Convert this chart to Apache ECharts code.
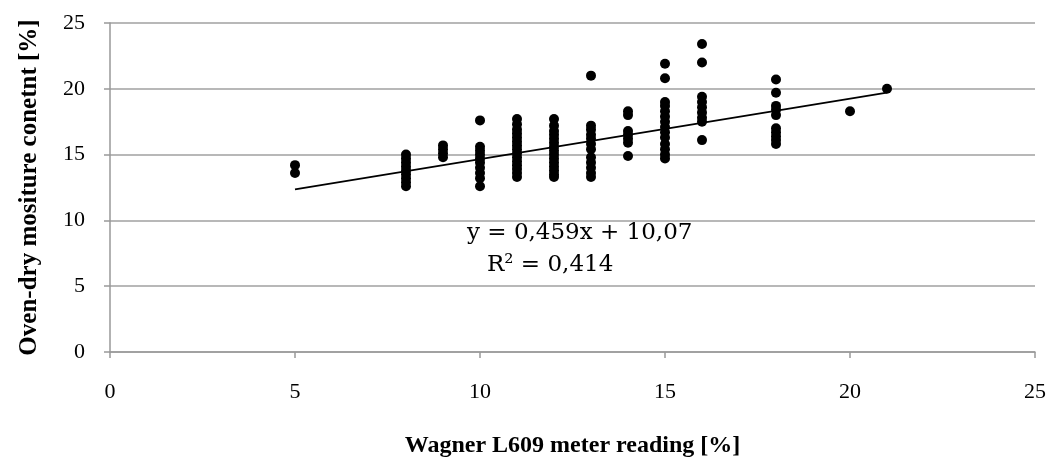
<!DOCTYPE html>
<html>
<head>
<meta charset="utf-8">
<script src="https://cdn.jsdelivr.net/npm/echarts@6/dist/echarts.min.js"></script>
<style>html,body{margin:0;padding:0;background:#fff}#c{width:1049px;height:465px}</style>
</head>
<body>
<div id="c"></div>
<script>
// Data: meter reading (x) and oven-dry moisture content (y)
const x5  = [14.2, 13.6];
const x8  = [15.0, 14.7, 14.4, 14.1, 13.8, 13.5, 13.2, 12.9, 12.6];
const x9  = [15.7, 15.4, 15.1, 14.8];
const x10 = [17.6, 15.6, 15.3, 15.0, 14.7, 14.4, 14.0, 13.6, 13.2, 12.6];
const x11 = [17.7, 17.3, 16.9, 16.6, 16.3, 16.0, 15.7, 15.4, 15.1, 14.8, 14.5, 14.2, 13.9, 13.6, 13.3];
const x12 = [17.7, 17.2, 16.8, 16.5, 16.2, 15.9, 15.6, 15.3, 15.0, 14.7, 14.4, 14.1, 13.8, 13.5, 13.3];
const x13 = [21.0, 17.2, 16.9, 16.5, 16.2, 15.8, 15.4, 14.8, 14.4, 14.0, 13.6, 13.3];
const x14 = [18.3, 18.0, 16.8, 16.5, 16.2, 15.9, 14.9];
const x15 = [21.9, 20.8, 19.0, 18.7, 18.3, 17.9, 17.5, 17.1, 16.7, 16.3, 15.8, 15.4, 15.0, 14.7];
const x16 = [23.4, 22.0, 19.4, 19.0, 18.6, 18.2, 17.8, 17.5, 16.1];
const x18 = [20.7, 19.7, 18.7, 18.4, 18.0, 17.0, 16.7, 16.4, 16.1, 15.8];
const x20 = [18.3];
const x21 = [20.0];
const readings = [5, 8, 9, 10, 11, 12, 13, 14, 15, 16, 18, 20, 21];
const moistureByReading = [x5, x8, x9, x10, x11, x12, x13, x14, x15, x16, x18, x20, x21];

const slope = 0.459, intercept = 10.07;
const trendX = [5, 21];
const eqText = 'y = 0,459x + 10,07';
const r2Text = 'R\u00B2 = 0,414';
const xTicks = [0, 5, 10, 15, 20, 25];
const yTicks = [0, 5, 10, 15, 20, 25];

const pts = [];
readings.forEach((r, i) => moistureByReading[i].forEach(v => pts.push([r, v])));
const trend = trendX.map(x => [x, slope * x + intercept]);

const serif = '"Liberation Serif", "DejaVu Serif", serif';
const wideSerif = '"DejaVu Serif", serif';
const chart = echarts.init(document.getElementById('c'), null, {renderer: 'canvas'});
chart.setOption({
  animation: false,
  backgroundColor: '#fff',
  grid: {left: 110, right: 14, top: 23, bottom: 113},
  xAxis: {
    type: 'value', min: 0, max: 25, interval: 5,
    name: 'Wagner L609 meter reading [%]', nameLocation: 'middle', nameGap: 82,
    nameTextStyle: {fontFamily: serif, fontWeight: 'bold', fontSize: 24, color: '#000'},
    axisLine: {show: true, lineStyle: {color: '#999', width: 1.5}},
    axisTick: {show: true, length: 6, lineStyle: {color: '#999', width: 1.5}},
    axisLabel: {fontFamily: serif, fontSize: 22, color: '#000', margin: 29},
    splitLine: {show: false}
  },
  yAxis: {
    type: 'value', min: 0, max: 25, interval: 5,
    name: 'Oven-dry mositure conetnt [%]', nameLocation: 'middle', nameGap: 68, nameRotate: 90,
    nameTextStyle: {fontFamily: serif, fontWeight: 'bold', fontSize: 25, color: '#000'},
    axisLine: {show: true, lineStyle: {color: '#999', width: 1.5}},
    axisTick: {show: true, length: 6, lineStyle: {color: '#999', width: 1.5}},
    axisLabel: {fontFamily: serif, fontSize: 22, color: '#000', margin: 25},
    splitLine: {show: true, lineStyle: {color: '#a0a0a0', width: 1.5}}
  },
  series: [
    {type: 'scatter', data: pts, symbol: 'circle', symbolSize: 10,
     itemStyle: {color: '#000', opacity: 1}, z: 3},
    {type: 'line', data: trend, symbol: 'none', lineStyle: {color: '#000', width: 1.8}, z: 4}
  ],
  graphic: [
    {type: 'text', left: 467, top: 222, style: {text: eqText, font: '23px ' + wideSerif, fill: '#000'}},
    {type: 'text', left: 487, top: 254, style: {text: r2Text, font: '23px ' + wideSerif, fill: '#000'}}
  ]
});
</script>
</body>
</html>
